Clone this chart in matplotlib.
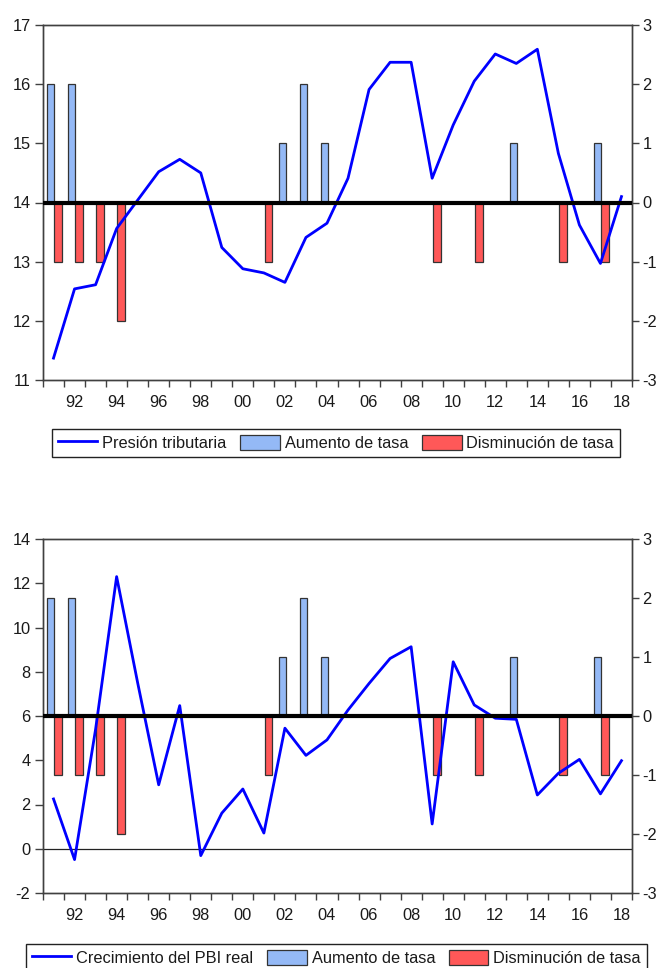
import matplotlib
matplotlib.use("Agg")
import matplotlib.pyplot as plt
from matplotlib.transforms import blended_transform_factory
from matplotlib.ticker import FixedLocator

plt.rcParams['font.family'] = ['Liberation Sans', 'DejaVu Sans']
plt.rcParams['axes.unicode_minus'] = False

# ---------------- data ----------------
years = list(range(1991, 2019))

presion_tributaria = [11.37, 12.54, 12.61, 13.56, 14.04, 14.52, 14.73, 14.50, 13.24, 12.88,
                      12.81, 12.65, 13.41, 13.65, 14.41, 15.91, 16.37, 16.37, 14.41, 15.31,
                      16.05, 16.51, 16.35, 16.59, 14.83, 13.62, 12.97, 14.10]

crecimiento_pbi = [2.25, -0.49, 5.4, 12.30, 7.5, 2.89, 6.47, -0.31, 1.61, 2.70,
                   0.71, 5.45, 4.22, 4.92, 6.27, 7.47, 8.60, 9.13, 1.12, 8.45,
                   6.50, 5.90, 5.85, 2.43, 3.41, 4.04, 2.48, 3.98]

aumento_years = [1991, 1992, 2002, 2003, 2004, 2013, 2017]
aumento_vals = [2, 2, 1, 2, 1, 1, 1]

disminucion_years = [1991, 1992, 1993, 1994, 2001, 2009, 2011, 2015, 2017]
disminucion_vals = [-1, -1, -1, -2, -1, -1, -1, -1, -1]

x_labels = ['92', '94', '96', '98', '00', '02', '04', '06', '08', '10', '12', '14', '16', '18']
x_label_pos = list(range(1992, 2019, 2))

# ---------------- style ----------------
BLUE_LINE = '#0000FF'
BAR_BLUE = '#94B9F6'
BAR_RED = '#FF5858'
EDGE = '#333333'
SPINE = '#404040'
TXT = '#1a1a1a'
FS = 11.8

W, H = 660, 968
fig = plt.figure(figsize=(W / 100, H / 100), dpi=100)


def make_panel(rect, series, label, ylim_left, yticks_left, zero_thin):
    ax = fig.add_axes(rect)
    ax2 = ax.twinx()
    # bars on right axis (behind)
    b1 = ax2.bar([y - 0.13 for y in aumento_years], aumento_vals, width=0.33,
                 color=BAR_BLUE, edgecolor=EDGE, linewidth=0.9, label='Aumento de tasa')
    b2 = ax2.bar([y + 0.22 for y in disminucion_years], disminucion_vals, width=0.36,
                 color=BAR_RED, edgecolor=EDGE, linewidth=0.9, label='Disminución de tasa')
    ax2.set_ylim(-3, 3)
    ax2.set_yticks(range(-3, 4))

    # line on left axis (in front)
    ax.set_zorder(ax2.get_zorder() + 1)
    ax.patch.set_visible(False)
    if zero_thin:
        ax.axhline(0, color='#222222', lw=0.9, zorder=1)
    ln, = ax.plot(years, series, color=BLUE_LINE, lw=2.0, label=label, zorder=3)
    # thick zero line of the right axis, drawn in front
    tr = blended_transform_factory(ax.transAxes, ax2.transData)
    ax.plot([0, 1], [0, 0], transform=tr, color='black', lw=3.0, zorder=4,
            solid_capstyle='butt')

    ax.set_ylim(*ylim_left)
    ax.set_yticks(yticks_left)
    ax.set_xlim(1990.5, 2018.5)

    # x ticks at year boundaries, labels at even-year centres
    ax.xaxis.set_major_locator(FixedLocator([y + 0.5 for y in range(1990, 2019)]))
    ax.xaxis.set_major_formatter(plt.NullFormatter())
    ax.xaxis.set_minor_locator(FixedLocator(x_label_pos))
    ax.set_xticklabels(x_labels, minor=True)
    ax.tick_params(axis='x', which='major', direction='out', length=5, width=1, color=SPINE)
    ax.tick_params(axis='x', which='minor', length=0, pad=11, labelsize=FS, labelcolor=TXT)
    ax.tick_params(axis='y', direction='out', length=6, width=1, color=SPINE,
                   labelsize=FS, labelcolor=TXT, pad=3)
    ax2.tick_params(axis='y', direction='out', length=5, width=1, color=SPINE,
                    labelsize=FS, labelcolor=TXT, pad=2.5)
    ax2.tick_params(axis='x', length=0)
    for a in (ax, ax2):
        for s in a.spines.values():
            s.set_color(SPINE)
            s.set_linewidth(1.0)
    return ln, b1, b2


def px_rect(left, top, right, bottom):
    return [left / W, (H - bottom) / H, (right - left) / W, (bottom - top) / H]


h1 = make_panel(px_rect(43, 25, 632, 380), presion_tributaria, 'Presión tributaria',
                (11, 17), range(11, 18), False)
h2 = make_panel(px_rect(43, 539, 632, 893), crecimiento_pbi, 'Crecimiento del PBI real',
                (-2, 14), range(-2, 15, 2), True)

leg_kw = dict(ncol=3, loc='upper center', fontsize=FS, frameon=True, fancybox=False,
              edgecolor='#222222', framealpha=1, borderpad=0.35, borderaxespad=0,
              handlelength=2.4, handleheight=1.05, handletextpad=0.3, columnspacing=0.85,
              labelcolor=TXT)
l1 = fig.legend(list(h1), [h.get_label() for h in h1],
                bbox_to_anchor=(336 / W, (H - 429) / H), **leg_kw)
l2 = fig.legend(list(h2), [h.get_label() for h in h2],
                bbox_to_anchor=(336.5 / W, (H - 944) / H), **leg_kw)
for l in (l1, l2):
    l.get_frame().set_linewidth(1.0)

fig.savefig('out.png', dpi=100)
